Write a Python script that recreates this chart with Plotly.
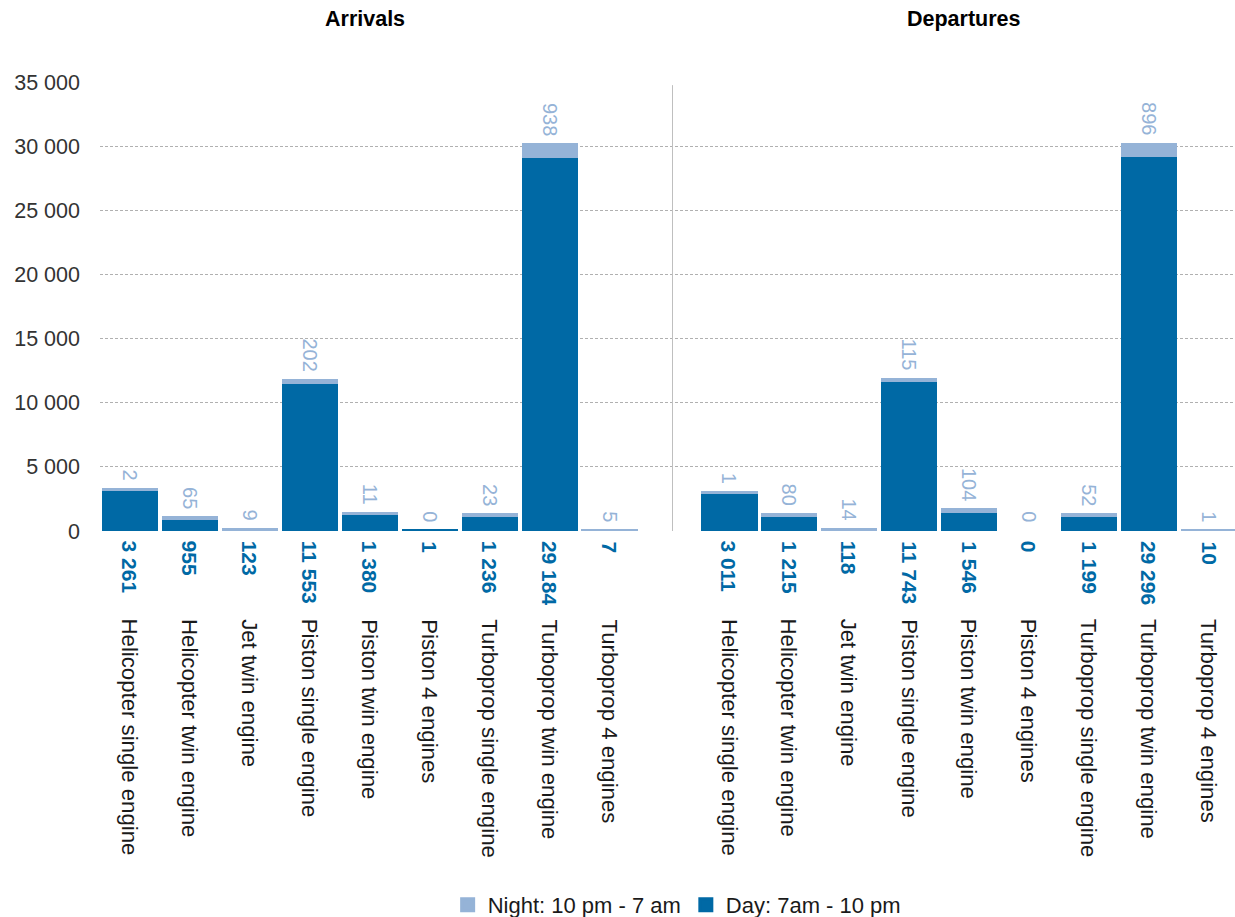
import plotly.graph_objects as go

# ---------------- data ----------------
categories = [
    "Helicopter single engine", "Helicopter twin engine", "Jet twin engine",
    "Piston single engine", "Piston twin engine", "Piston 4 engines",
    "Turboprop single engine", "Turboprop twin engine", "Turboprop 4 engines",
]
groups = ["Arrivals", "Departures"]
arrivals_day = [3261, 955, 123, 11553, 1380, 1, 1236, 29184, 7]
arrivals_night = [2, 65, 9, 202, 11, 0, 23, 938, 5]
departures_day = [3011, 1215, 118, 11743, 1546, 0, 1199, 29296, 10]
departures_night = [1, 80, 14, 115, 104, 0, 52, 896, 1]
y_ticks = [0, 5000, 10000, 15000, 20000, 25000, 30000, 35000]
series_names = ["Day: 7am - 10 pm", "Night: 10 pm - 7 am"]

# ---------------- styling ----------------
DARK = "#0069A5"
LIGHT = "#95B3D7"
FONT = "Liberation Sans, Arial, sans-serif"

n = len(categories)
x_arr = list(range(n))
x_dep = [i + n + 1 for i in range(n)]
xs = x_arr + x_dep
day = arrivals_day + departures_day
night = arrivals_night + departures_night
labels = categories + categories


def fmt(v):
    return f"{v:,}".replace(",", " ")


bar_w = 0.887
fig = go.Figure()
fig.add_trace(go.Bar(
    x=xs, y=day, name=series_names[0], width=bar_w,
    marker=dict(color=DARK, line=dict(color=DARK,
                                      width=[3 if v > 0 else 0 for v in day])),
    hoverinfo="skip",
))
fig.add_trace(go.Bar(
    x=xs, y=night, name=series_names[1], width=bar_w,
    marker=dict(color=LIGHT, line=dict(color=LIGHT,
                                       width=[3 if v > 0 else 0 for v in night])),
    text=[fmt(v) + "\u00a0" for v in night],
    textposition="outside", textangle=90,
    textfont=dict(color=LIGHT, size=20, family=FONT),
    constraintext="none", cliponaxis=False,
    hoverinfo="skip",
))

annotations = []
for x, d, lab in zip(xs, day, labels):
    annotations.append(dict(
        x=x, y=0, xref="x", yref="y", text="<b>" + fmt(d) + "</b>",
        textangle=90, xanchor="center", yanchor="top", yshift=-8,
        showarrow=False, font=dict(color=DARK, size=21, family=FONT),
    ))
    annotations.append(dict(
        x=x, y=0, xref="x", yref="y", text=lab,
        textangle=90, xanchor="center", yanchor="top", yshift=-86,
        showarrow=False, font=dict(color="#1a1a1a", size=22.2, family=FONT),
    ))

group_centers = [(n - 1) / 2, (n - 1) / 2 + n + 1]
for gx, g in zip(group_centers, groups):
    annotations.append(dict(
        x=gx, y=1.14, xref="x", yref="paper", text="<b>" + g + "</b>",
        xanchor="center", yanchor="middle", xshift=-5, showarrow=False,
        font=dict(color="#000000", size=21.5, family=FONT),
    ))

fig.update_layout(
    width=1235, height=917,
    margin=dict(l=100, r=0, t=82, b=386, autoexpand=False),
    paper_bgcolor="white", plot_bgcolor="white",
    barmode="stack",
    separators=". ",
    font=dict(family=FONT, size=21, color="#333333"),
    showlegend=True,
    legend=dict(
        orientation="h", traceorder="reversed",
        x=0.5085, xanchor="center", y=-0.833, yanchor="middle",
        font=dict(size=22, color="#1a1a1a", family=FONT),
        itemclick=False, itemdoubleclick=False,
    ),
    xaxis=dict(
        range=[-0.5, 18.433], showticklabels=False, showgrid=False,
        zeroline=False, showline=False, ticks="",
    ),
    yaxis=dict(
        range=[0, 35030], tickvals=y_ticks, tickformat=",d",
        showgrid=True, gridcolor="#b0b0b0", griddash="3px,2px", gridwidth=1,
        zeroline=True, zerolinecolor="white", zerolinewidth=1,
        showline=False, ticks="", ticklabelstandoff=19,
        tickfont=dict(size=21.5, color="#333333", family=FONT),
    ),
    shapes=[dict(
        type="line", xref="x", yref="paper", x0=n + 0.05, x1=n + 0.05,
        y0=0, y1=0.993, line=dict(color="#bfbfbf", width=1),
    )],
    annotations=annotations,
)

fig.write_html("out.html")
